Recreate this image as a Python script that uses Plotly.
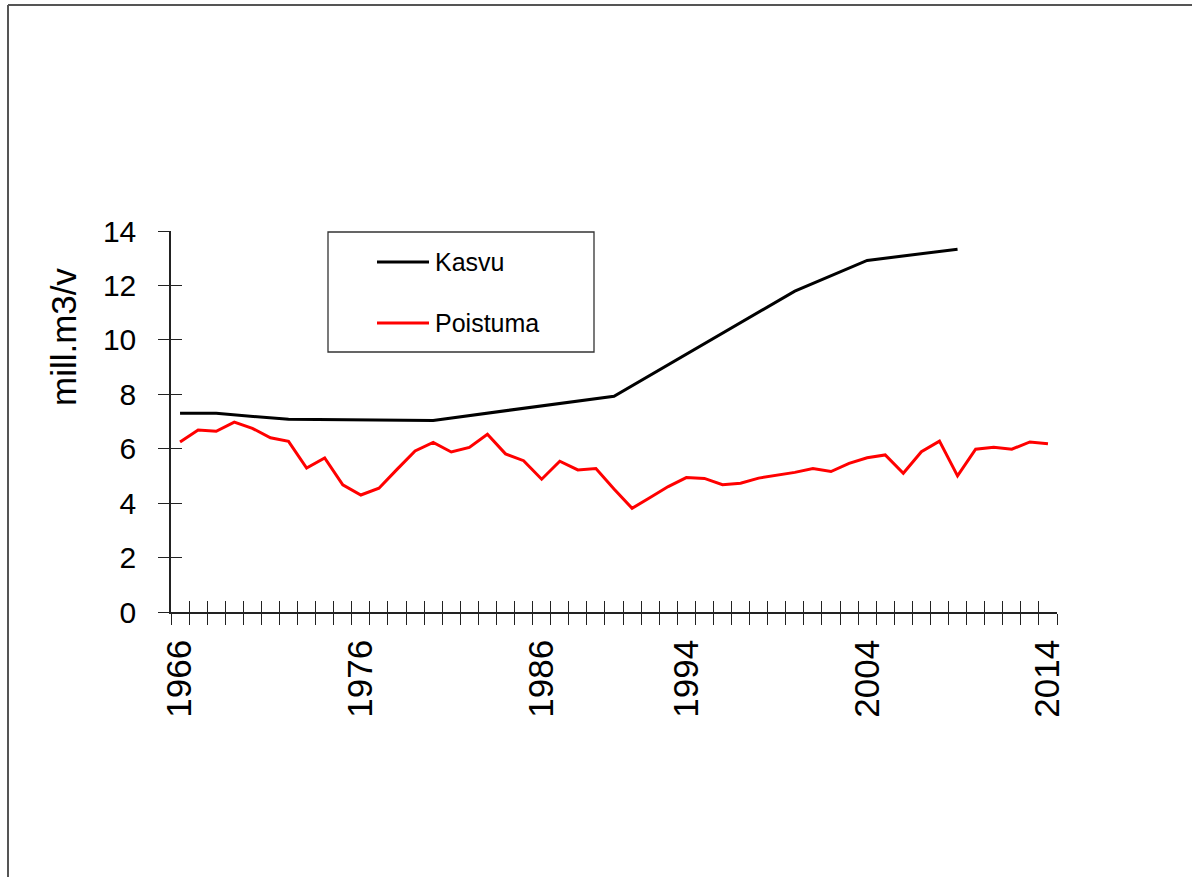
import plotly.graph_objects as go

# ---- data ----
years = list(range(1966, 2015))
poistuma = [6.25, 6.69, 6.64, 6.98, 6.75, 6.40, 6.27, 5.29, 5.66, 4.67,
            4.30, 4.55, 5.24, 5.92, 6.23, 5.88, 6.05, 6.53, 5.81, 5.56,
            4.88, 5.54, 5.22, 5.27, 4.52, 3.81, 4.21, 4.61, 4.94, 4.91,
            4.68, 4.73, 4.92, 5.03, 5.13, 5.27, 5.16, 5.46, 5.67, 5.77,
            5.10, 5.89, 6.28, 5.00, 5.98, 6.05, 5.98, 6.25, 6.18]
kasvu_years = [1966, 1968, 1972, 1980, 1990, 2000, 2004, 2009]
kasvu = [7.30, 7.30, 7.08, 7.04, 7.93, 11.79, 12.92, 13.33]
label_years = [1966, 1976, 1986, 1994, 2004, 2014]
series_names = ["Kasvu", "Poistuma"]
series_colors = ["#000000", "#ff0000"]
y_title = "mill.m3/v"

FONT = "Liberation Sans, Arial, sans-serif"
W, H = 1192, 877
L, R, T, B = 171, 135, 231, 265
PW = W - L - R
PH = H - T - B

def px(x):
    return (x - L) / PW

def py(y):
    return (H - B - y) / PH

fig = go.Figure()
fig.add_trace(go.Scatter(x=kasvu_years, y=kasvu, mode="lines", name=series_names[0],
                         line=dict(color=series_colors[0], width=3), showlegend=False,
                         xaxis="x2", yaxis="y2"))
fig.add_trace(go.Scatter(x=years, y=poistuma, mode="lines", name=series_names[1],
                         line=dict(color=series_colors[1], width=3), showlegend=False))

boundaries = [y - 0.5 for y in years] + [years[-1] + 0.5]
xr = [years[0] - 0.5, years[-1] + 0.5]
yr = [0, 14]

fig.update_layout(
    width=W, height=H,
    margin=dict(l=L, r=R, t=T, b=B, pad=0),
    paper_bgcolor="white", plot_bgcolor="white",
    font=dict(family=FONT, color="black"),
    xaxis=dict(range=xr, tickmode="array", tickvals=label_years,
               ticktext=[str(v) for v in label_years], ticks="", tickangle=-90,
               tickfont=dict(size=35, family=FONT), ticklabelstandoff=12,
               showline=True, linecolor="#222", linewidth=1.5, showgrid=False, zeroline=False,
               minor=dict(tickmode="array", tickvals=boundaries, ticks="outside",
                          ticklen=11, tickwidth=1.3, tickcolor="#222", showgrid=False)),
    xaxis2=dict(range=xr, overlaying="x", anchor="y2", side="bottom", tickmode="array",
                tickvals=boundaries, ticks="inside", ticklen=11, tickwidth=1.3,
                tickcolor="#222", showticklabels=False, showgrid=False, zeroline=False,
                showline=False),
    yaxis=dict(range=yr, tickmode="linear", tick0=0, dtick=2, ticks="outside",
               ticklen=11, tickwidth=1.3, tickcolor="#222",
               tickfont=dict(size=30, family=FONT), ticklabelstandoff=16,
               showline=True, linecolor="#222", linewidth=1.5, showgrid=False, zeroline=False),
    yaxis2=dict(range=yr, overlaying="y", anchor="x2", side="left", tickmode="linear",
                tick0=0, dtick=2, ticks="inside", ticklen=11, tickwidth=1.3,
                tickcolor="#222", showticklabels=False, showgrid=False, zeroline=False,
                showline=False),
    showlegend=False,
)

# y title
fig.add_annotation(text=y_title, xref="paper", yref="paper", x=px(63), y=py(337),
                   textangle=-90, showarrow=False, font=dict(size=35, family=FONT),
                   xanchor="center", yanchor="middle")

# legend box (manual)
fig.add_shape(type="rect", xref="paper", yref="paper", x0=px(328), x1=px(594),
              y0=py(352), y1=py(232), line=dict(color="#333", width=1.3),
              fillcolor="white", layer="below")
for name, color, yc in zip(series_names, series_colors, [262, 323]):
    fig.add_shape(type="line", xref="paper", yref="paper", x0=px(377), x1=px(429),
                  y0=py(yc), y1=py(yc), line=dict(color=color, width=3))
    fig.add_annotation(text=name, xref="paper", yref="paper", x=px(433), y=py(yc),
                       xanchor="left", yanchor="middle", showarrow=False,
                       font=dict(size=25, family=FONT))

# outer frame
fig.add_shape(type="line", xref="paper", yref="paper", x0=px(8), x1=px(1195),
              y0=py(5), y1=py(5), line=dict(color="#555", width=2))
fig.add_shape(type="line", xref="paper", yref="paper", x0=px(8), x1=px(8),
              y0=py(5), y1=py(880), line=dict(color="#555", width=2))

fig.write_html("out.html", config={"displayModeBar": False},
               post_script="document.body.style.margin='0';document.body.style.overflow='hidden';")
